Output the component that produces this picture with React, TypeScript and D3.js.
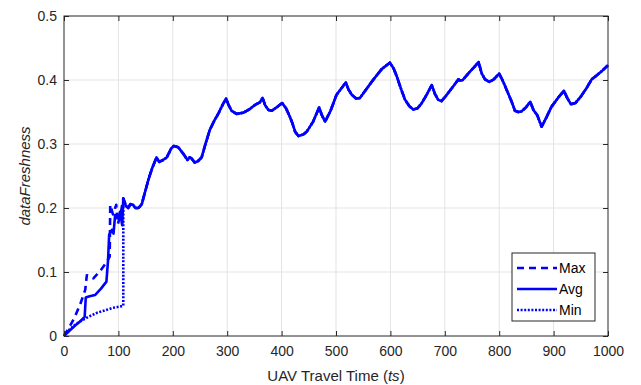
import {
  select,
  scaleLinear,
  axisBottom,
  axisLeft,
  axisTop,
  axisRight,
  line,
} from "d3";
import React, { useEffect, useRef } from "react";

type Pt = [number, number];

// the three series split apart before t≈109, then run together
const maxHead: Pt[] = [
  [0, 0], [10, 0.014], [20, 0.03], [30, 0.05], [39, 0.072], [42, 0.095],
  [54, 0.09], [66, 0.101], [78, 0.115], [84, 0.124], [85, 0.205],
  [90, 0.19], [96, 0.205], [99, 0.175], [104, 0.19],
];
const avgHead: Pt[] = [
  [0, 0], [10, 0.008], [20, 0.016], [30, 0.023], [38, 0.03], [40, 0.06],
  [47, 0.062], [57, 0.064], [68, 0.074], [78, 0.085], [81, 0.119],
  [83, 0.158], [88, 0.166], [91, 0.16], [94, 0.189], [100, 0.184],
  [103, 0.194], [107, 0.173],
];
const minHead: Pt[] = [
  [0, 0], [10, 0.01], [20, 0.017], [30, 0.023], [45, 0.03], [60, 0.036],
  [75, 0.04], [90, 0.044], [109, 0.047], [109, 0.17],
];
const sharedTail: Pt[] = [
  [109, 0.215], [114, 0.203], [118, 0.2], [122, 0.206], [127, 0.205],
  [131, 0.2], [137, 0.2], [143, 0.206], [149, 0.225], [155, 0.244],
  [162, 0.262], [170, 0.279], [175, 0.272], [182, 0.275], [189, 0.279],
  [197, 0.293], [202, 0.297], [210, 0.295], [219, 0.285], [227, 0.275],
  [231, 0.279], [235, 0.277], [240, 0.271], [246, 0.273], [253, 0.279],
  [260, 0.3], [268, 0.322], [276, 0.336], [284, 0.348], [292, 0.362],
  [298, 0.371], [302, 0.362], [308, 0.352], [317, 0.347], [330, 0.349],
  [342, 0.355], [351, 0.361], [360, 0.365], [365, 0.372], [370, 0.36],
  [376, 0.353], [382, 0.352], [392, 0.358], [401, 0.364], [408, 0.356],
  [415, 0.343], [420, 0.332], [425, 0.319], [431, 0.3125], [440, 0.315],
  [446, 0.319], [458, 0.335], [469, 0.357], [474, 0.345], [480, 0.335],
  [490, 0.352], [501, 0.377], [510, 0.387], [518, 0.396], [523, 0.385],
  [529, 0.377], [537, 0.371], [544, 0.372], [556, 0.386], [569, 0.401],
  [584, 0.417], [599, 0.427], [606, 0.418], [612, 0.405], [620, 0.385],
  [627, 0.369], [635, 0.359], [642, 0.354], [650, 0.356], [657, 0.363],
  [666, 0.376], [676, 0.392], [682, 0.378], [688, 0.369], [694, 0.367],
  [701, 0.374], [710, 0.384], [718, 0.393], [725, 0.401], [728, 0.399],
  [733, 0.4], [745, 0.412], [754, 0.42], [762, 0.428], [768, 0.41],
  [774, 0.401], [782, 0.397], [790, 0.401], [800, 0.41], [807, 0.398],
  [814, 0.384], [822, 0.368], [829, 0.352], [835, 0.35], [841, 0.351],
  [849, 0.357], [857, 0.366], [863, 0.353], [870, 0.345], [878, 0.327],
  [887, 0.342], [896, 0.358], [908, 0.372], [919, 0.383], [925, 0.372],
  [932, 0.362], [940, 0.364], [950, 0.374], [961, 0.388], [970, 0.401],
  [979, 0.407], [990, 0.415], [1000, 0.423],
];

const xTicks = [0, 100, 200, 300, 400, 500, 600, 700, 800, 900, 1000];
const yTicks = [0, 0.1, 0.2, 0.3, 0.4, 0.5];
const seriesNames = ["Max", "Avg", "Min"];
const seriesDash = ["7,5", "none", "2,1.6"];

const FONT = "'Liberation Sans', Arial, Helvetica, sans-serif";
const AX = "#262626";
const BLUE = "#0000ff";

const App = () => {
  const chartRef = useRef<SVGSVGElement>(null);

  useEffect(() => {
    if (!chartRef.current) return;
    const svg = select(chartRef.current);
    svg.selectAll("*").remove();

    // 그래프 영역
    const margin = { top: 16, left: 64 };
    const width = 544;
    const height = 320;
    const g = svg
      .append("g")
      .attr("transform", `translate(${margin.left},${margin.top})`);

    const x = scaleLinear().domain([0, 1000]).range([0, width]);
    const y = scaleLinear().domain([0, 0.5]).range([height, 0]);

    // grid
    g.append("g")
      .selectAll("line")
      .data(xTicks.slice(1, -1))
      .enter()
      .append("line")
      .attr("x1", (d) => x(d))
      .attr("x2", (d) => x(d))
      .attr("y1", 0)
      .attr("y2", height)
      .attr("stroke", "#e3e3e3");
    g.append("g")
      .selectAll("line")
      .data(yTicks.slice(1, -1))
      .enter()
      .append("line")
      .attr("x1", 0)
      .attr("x2", width)
      .attr("y1", (d) => y(d))
      .attr("y2", (d) => y(d))
      .attr("stroke", "#e3e3e3");

    // lines
    const series = [
      maxHead.concat(sharedTail),
      avgHead.concat(sharedTail),
      minHead.concat(sharedTail),
    ];
    const lineGen = line<Pt>()
      .x((d) => x(d[0]))
      .y((d) => y(d[1]));
    series.forEach((s, i) => {
      g.append("path")
        .datum(s)
        .attr("fill", "none")
        .attr("stroke", BLUE)
        .attr("stroke-width", 2.6)
        .attr("stroke-linejoin", "round")
        .attr("stroke-dasharray", seriesDash[i])
        .attr("d", lineGen);
    });

    // axes
    const styleAxis = (sel: any) => {
      sel.select(".domain").remove();
      sel.selectAll("line").attr("stroke", AX);
      sel
        .selectAll("text")
        .attr("fill", AX)
        .attr("font-family", FONT)
        .attr("font-size", 14);
    };
    g.append("g")
      .attr("transform", `translate(0,${height})`)
      .call(
        axisBottom(x)
          .tickValues(xTicks)
          .tickSize(-5)
          .tickPadding(10)
          .tickFormat((d) => String(d))
      )
      .call(styleAxis);
    g.append("g")
      .call(
        axisLeft(y)
          .tickValues(yTicks)
          .tickSize(-5)
          .tickPadding(7)
          .tickFormat((d) => String(d))
      )
      .call(styleAxis);
    g.append("g")
      .call(axisTop(x).tickValues(xTicks).tickSize(-5).tickFormat(() => ""))
      .call(styleAxis);
    g.append("g")
      .attr("transform", `translate(${width},0)`)
      .call(axisRight(y).tickValues(yTicks).tickSize(-5).tickFormat(() => ""))
      .call(styleAxis);
    g.append("rect")
      .attr("width", width)
      .attr("height", height)
      .attr("fill", "none")
      .attr("stroke", AX);

    // labels
    const xl = svg
      .append("text")
      .attr("x", margin.left + width / 2)
      .attr("y", 381)
      .attr("text-anchor", "middle")
      .attr("font-family", FONT)
      .attr("font-size", 15)
      .attr("fill", AX);
    xl.append("tspan").text("UAV Travel Time (");
    xl.append("tspan").attr("font-style", "italic").text("ts");
    xl.append("tspan").text(")");

    svg
      .append("text")
      .attr("transform", `translate(30,${margin.top + height / 2}) rotate(-90)`)
      .attr("text-anchor", "middle")
      .attr("font-family", FONT)
      .attr("font-size", 15)
      .attr("font-style", "italic")
      .attr("fill", AX)
      .text("dataFreshness");

    // legend
    const lg = svg.append("g").attr("transform", "translate(512,253)");
    lg.append("rect")
      .attr("width", 83)
      .attr("height", 68)
      .attr("fill", "#fff")
      .attr("stroke", AX);
    seriesNames.forEach((name, i) => {
      const cy = 15 + i * 21;
      lg.append("line")
        .attr("x1", 5)
        .attr("x2", 45)
        .attr("y1", cy)
        .attr("y2", cy)
        .attr("stroke", BLUE)
        .attr("stroke-width", 2.6)
        .attr("stroke-dasharray", seriesDash[i]);
      lg.append("text")
        .attr("x", 47)
        .attr("y", cy)
        .attr("dy", "0.35em")
        .attr("font-family", FONT)
        .attr("font-size", 14)
        .attr("fill", "#000")
        .text(name);
    });
  }, []);

  return (
    <svg
      ref={chartRef}
      width={641}
      height={385}
      style={{ position: "absolute", left: 0, top: 0, background: "#fff" }}
    ></svg>
  );
};

export default App;
